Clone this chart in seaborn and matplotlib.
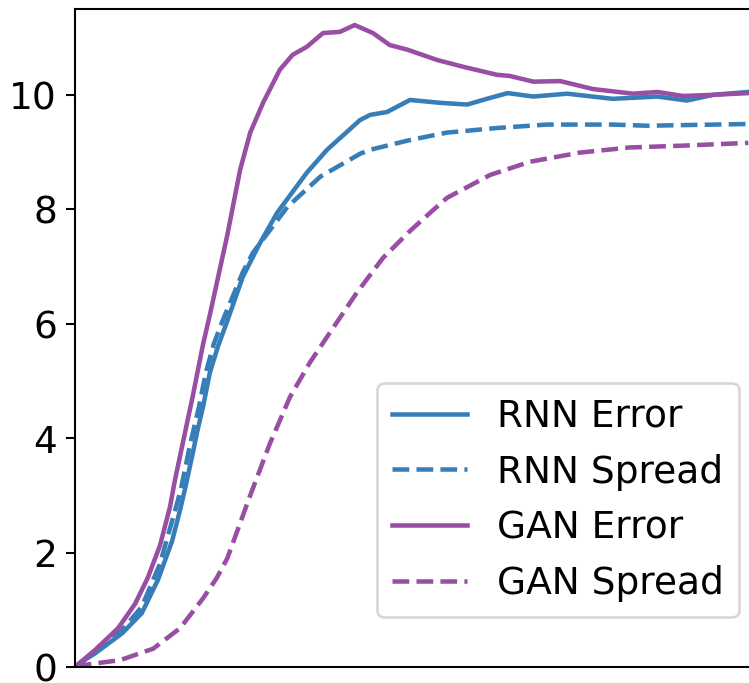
import numpy as np
import pandas as pd
import matplotlib
matplotlib.use("Agg")
import matplotlib.pyplot as plt
import seaborn as sns

# values
rnn_err_x = [0, 0.7, 3.0, 7.0, 9.9, 12.3, 14.4, 15.6, 16.3, 17.5, 18.2, 19.0, 20.0,
             21.2, 22.6, 24.9, 27.4, 30.0, 34.4, 37.4, 42.3, 43.8, 46.3, 49.7, 54.2,
             58.2, 61.1, 64.2, 68.0, 73.0, 79.8, 86.4, 90.8, 94.7, 99.9]
rnn_err_y = [0, 0.07, 0.24, 0.59, 0.94, 1.52, 2.2, 2.75, 3.1, 3.75, 4.15, 4.55, 5.14,
             5.6, 6.05, 6.82, 7.4, 7.94, 8.64, 9.04, 9.56, 9.65, 9.70, 9.91, 9.86,
             9.83, 9.93, 10.03, 9.97, 10.02, 9.93, 9.97, 9.90, 10.00, 10.05]

rnn_spr_x = [0, 0.3, 3.0, 7.0, 9.9, 12.6, 13.8, 15.0, 15.7, 17.1, 18.4, 19.4, 20.6,
             21.9, 24.9, 26.4, 31.5, 36.4, 42.3, 43.8, 49.7, 55.2, 62.6, 70.0, 79.8,
             84.9, 99.9]
rnn_spr_y = [0, 0.03, 0.27, 0.65, 1.05, 1.8, 2.3, 2.8, 3.1, 3.9, 4.55, 5.14, 5.65,
             6.05, 6.9, 7.24, 8.04, 8.57, 8.97, 9.04, 9.21, 9.34, 9.42, 9.48, 9.48,
             9.46, 9.49]

gan_err_x = [0, 3.0, 6.4, 8.9, 10.8, 12.6, 14.1, 14.8, 17.5, 19.0, 20.0, 22.6, 24.5, 26.0,
             27.9, 30.4, 32.3, 34.4, 36.8, 39.3, 41.5, 44.2, 46.7, 49.3, 53.7, 57.6,
             62.6, 64.5, 68.0, 72.0, 76.9, 82.8, 86.4, 90.2, 94.7, 99.9]
gan_err_y = [0, 0.30, 0.68, 1.1, 1.56, 2.12, 2.80, 3.25, 4.75, 5.64, 6.15, 7.55, 8.69, 9.34,
             9.86, 10.44, 10.70, 10.84, 11.08, 11.10, 11.22, 11.08, 10.87, 10.79, 10.61, 10.49,
             10.35, 10.33, 10.23, 10.24, 10.10, 10.02, 10.05, 9.98, 10.00, 10.03]

gan_spr_x = [0, 0.3, 6.7, 11.6, 15.6, 19.0, 21.0, 22.6, 24.3, 26.0, 28.9, 31.9, 34.9,
             37.8, 41.8, 45.7, 49.7, 52.7, 55.2, 61.6, 67.5, 74.9, 82.3, 89.8, 99.9]
gan_spr_y = [0, 0.02, 0.12, 0.32, 0.68, 1.2, 1.55, 1.9, 2.45, 3.0, 3.9, 4.72, 5.33,
             5.84, 6.54, 7.15, 7.62, 7.94, 8.2, 8.60, 8.83, 8.99, 9.08, 9.11, 9.16]

blue = "#377eb8"
purple = "#984ea3"

plt.rcParams['font.size'] = 14.5
plt.rcParams['font.family'] = ['DejaVu Sans']

fig = plt.figure(figsize=(749/186, 683/186), dpi=186)
ax = fig.add_axes([75/749, 16/683, 676/749, 658/683])

lw = 1.75
sns.lineplot(x=rnn_err_x, y=rnn_err_y, color=blue, lw=lw, label="RNN Error", ax=ax)
sns.lineplot(x=rnn_spr_x, y=rnn_spr_y, color=blue, lw=lw, linestyle="--", label="RNN Spread", ax=ax)
sns.lineplot(x=gan_err_x, y=gan_err_y, color=purple, lw=lw, label="GAN Error", ax=ax)
sns.lineplot(x=gan_spr_x, y=gan_spr_y, color=purple, lw=lw, linestyle="--", label="GAN Spread", ax=ax)

ax.set_xlim(0, 100.3)
ax.set_ylim(0, 11.5)
ax.set_xticks([])
ax.set_yticks([0, 2, 4, 6, 8, 10])
ax.legend(loc="lower right", bbox_to_anchor=(0.982, 0.076), borderaxespad=0)

fig.savefig("out.png", dpi=186)
